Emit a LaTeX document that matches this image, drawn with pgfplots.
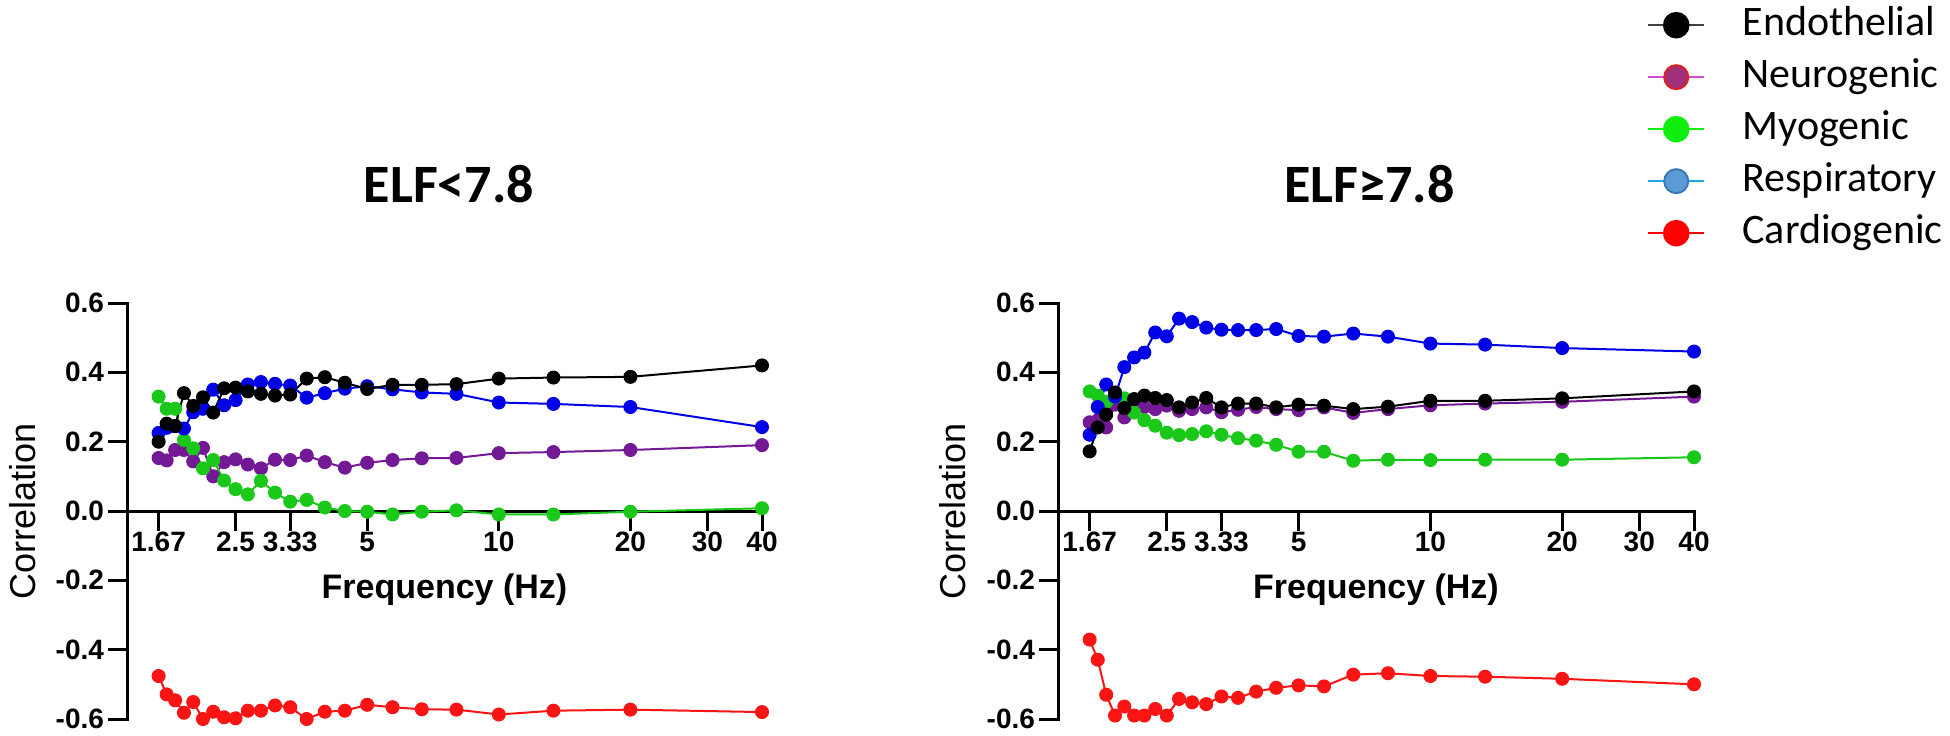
\documentclass[border=0pt]{standalone}
\usepackage{pgfplots}
\pgfplotsset{compat=1.18}
\usepackage{fontspec}
\setmainfont{Liberation Sans}
\newfontfamily\carlito{Carlito}
\definecolor{cEndo}{RGB}{0,0,0}
\definecolor{cNeuro}{RGB}{115,25,150}
\definecolor{cMyo}{RGB}{25,200,25}
\definecolor{cResp}{RGB}{0,0,230}
\definecolor{cCard}{RGB}{250,20,20}
\definecolor{lNeuroLine}{RGB}{208,80,200}
\definecolor{lNeuroFill}{RGB}{160,48,122}
\definecolor{lNeuroDraw}{RGB}{225,30,30}
\definecolor{lMyo}{RGB}{16,238,16}
\definecolor{lRespLine}{RGB}{30,168,232}
\definecolor{lRespFill}{RGB}{91,155,213}
\definecolor{lRespDraw}{RGB}{58,120,184}
\definecolor{lEndoLine}{RGB}{64,64,64}

\pgfplotsset{
  every axis/.append style={
    scale only axis, height=208pt,
    xmin=1.411, xmax=40, ymin=-0.6, ymax=0.6,
    axis x line=middle, axis y line=left,
    axis line style={-, line width=1.5pt, black},
    hide obscured x ticks=false, hide obscured y ticks=false,
    major tick length=0pt,
    minor tick num=0,
    xtick={1.6667,2.5,3.3333,5,10,20,30,40},
    xticklabels={1.67,2.5,3.33,5,10,20,30,40},
    ytick={-0.6,-0.4,-0.2,0,0.2,0.4,0.6},
    yticklabels={-0.6,-0.4,-0.2,0.0,0.2,0.4,0.6},
    ticklabel style={font=\bfseries\fontsize{14}{16}\selectfont},
    xticklabel style={anchor=north, yshift=-7pt},
    yticklabel style={anchor=east, xshift=-8pt},
    xlabel={Frequency (Hz)},
    xlabel style={at={(axis description cs:0.5,0.31)}, anchor=center, font=\bfseries\fontsize{17}{20}\selectfont},
    ylabel={Correlation},
    ylabel style={at={(axis description cs:-0.165,0.5)}, anchor=center, font=\fontsize{18}{21}\selectfont},
    title style={anchor=center, font=\carlito\bfseries\fontsize{27}{31}\selectfont},
    clip=false,
  },
  ser/.style={color=#1, mark=*, mark size=3.25pt, line width=1pt, mark options={fill=#1, draw=#1, line width=0.5pt}},
}
\tikzset{tk/.style={line width=1.5pt, black, line cap=rect}}
\newcommand\drawticks{%
  \draw[tk] (axis cs:1.6667,0) -- ([yshift=-9pt]axis cs:1.6667,0);
  \draw[tk] (axis cs:2.5,0) -- ([yshift=-9pt]axis cs:2.5,0);
  \draw[tk] (axis cs:3.3333,0) -- ([yshift=-9pt]axis cs:3.3333,0);
  \draw[tk] (axis cs:5,0) -- ([yshift=-9pt]axis cs:5,0);
  \draw[tk] (axis cs:10,0) -- ([yshift=-9pt]axis cs:10,0);
  \draw[tk] (axis cs:20,0) -- ([yshift=-9pt]axis cs:20,0);
  \draw[tk] (axis cs:30,0) -- ([yshift=-9pt]axis cs:30,0);
  \draw[tk] (axis cs:40,0) -- ([yshift=-9pt]axis cs:40,0);
  \draw[tk] (axis cs:1.411,-0.6) -- ([xshift=-9pt]axis cs:1.411,-0.6);
  \draw[tk] (axis cs:1.411,-0.4) -- ([xshift=-9pt]axis cs:1.411,-0.4);
  \draw[tk] (axis cs:1.411,-0.2) -- ([xshift=-9pt]axis cs:1.411,-0.2);
  \draw[tk] (axis cs:1.411,0) -- ([xshift=-9pt]axis cs:1.411,0);
  \draw[tk] (axis cs:1.411,0.2) -- ([xshift=-9pt]axis cs:1.411,0.2);
  \draw[tk] (axis cs:1.411,0.4) -- ([xshift=-9pt]axis cs:1.411,0.4);
  \draw[tk] (axis cs:1.411,0.6) -- ([xshift=-9pt]axis cs:1.411,0.6);
}

\begin{document}
\begin{tikzpicture}
\path[use as bounding box] (0,0) rectangle (975pt,367.5pt);

\begin{semilogxaxis}[at={(63.5pt,8pt)}, anchor=south west, width=317.5pt, title={ELF<7.8},
  title style={at={(axis description cs:0.507,1.257)}}]
\drawticks
\addplot[ser=cCard] coordinates {(1.6667,-0.476) (1.7391,-0.529) (1.8182,-0.546) (1.9048,-0.582) (2.0,-0.551) (2.1053,-0.60) (2.2222,-0.579) (2.3529,-0.595) (2.5,-0.598) (2.6667,-0.576) (2.8571,-0.576) (3.0769,-0.561) (3.3333,-0.566) (3.6364,-0.60) (4.0,-0.579) (4.4444,-0.576) (5.0,-0.559) (5.7143,-0.566) (6.6667,-0.572) (8.0,-0.573) (10,-0.587) (13.333,-0.576) (20,-0.573) (40,-0.58)};
\addplot[ser=cNeuro] coordinates {(1.6667,0.153) (1.7391,0.146) (1.8182,0.176) (1.9048,0.176) (2.0,0.143) (2.1053,0.182) (2.2222,0.10) (2.3529,0.141) (2.5,0.149) (2.6667,0.134) (2.8571,0.123) (3.0769,0.148) (3.3333,0.147) (3.6364,0.16) (4.0,0.141) (4.4444,0.125) (5.0,0.139) (5.7143,0.147) (6.6667,0.152) (8.0,0.153) (10,0.167) (13.333,0.170) (20,0.176) (40,0.19)};
\addplot[ser=cMyo] coordinates {(1.6667,0.33) (1.7391,0.295) (1.8182,0.295) (1.9048,0.205) (2.0,0.181) (2.1053,0.123) (2.2222,0.147) (2.3529,0.088) (2.5,0.063) (2.6667,0.048) (2.8571,0.087) (3.0769,0.053) (3.3333,0.027) (3.6364,0.032) (4.0,0.01) (4.4444,0.0) (5.0,-0.002) (5.7143,-0.01) (6.6667,-0.002) (8.0,0.002) (10,-0.01) (13.333,-0.01) (20,-0.002) (40,0.008)};
\addplot[ser=cResp] coordinates {(1.6667,0.225) (1.7391,0.24) (1.8182,0.245) (1.9048,0.238) (2.0,0.285) (2.1053,0.295) (2.2222,0.35) (2.3529,0.305) (2.5,0.32) (2.6667,0.365) (2.8571,0.372) (3.0769,0.367) (3.3333,0.362) (3.6364,0.327) (4.0,0.34) (4.4444,0.353) (5.0,0.36) (5.7143,0.351) (6.6667,0.342) (8.0,0.338) (10,0.313) (13.333,0.309) (20,0.30) (40,0.242)};
\addplot[ser=cEndo] coordinates {(1.6667,0.20) (1.7391,0.252) (1.8182,0.245) (1.9048,0.34) (2.0,0.303) (2.1053,0.328) (2.2222,0.284) (2.3529,0.354) (2.5,0.356) (2.6667,0.345) (2.8571,0.338) (3.0769,0.333) (3.3333,0.336) (3.6364,0.382) (4.0,0.386) (4.4444,0.37) (5.0,0.352) (5.7143,0.364) (6.6667,0.364) (8.0,0.366) (10,0.382) (13.333,0.385) (20,0.387) (40,0.42)};
\end{semilogxaxis}

\begin{semilogxaxis}[at={(529pt,8pt)}, anchor=south west, width=318pt, title={ELF≥7.8},
  title style={at={(axis description cs:0.49,1.257)}},
  legend style={at={(axis description cs:0.926,1.716)}, anchor=north west, draw=none, fill=none, inner sep=0pt, outer sep=0pt,
    font=\carlito\fontsize{21}{25}\selectfont, row sep=6pt,
    nodes={inner sep=0pt, text height=15pt, text depth=5pt},
    /tikz/every odd column/.append style={column sep=18.5pt}},
  legend cell align=left,
  legend image code/.code={\draw[mark repeat=2, mark phase=2, #1] plot coordinates {(0pt,0pt) (14pt,0pt) (28pt,0pt)};}]
\drawticks
\addplot[ser=cCard, forget plot] coordinates {(1.6667,-0.371) (1.7391,-0.429) (1.8182,-0.530) (1.9048,-0.59) (2.0,-0.564) (2.1053,-0.59) (2.2222,-0.59) (2.3529,-0.571) (2.5,-0.59) (2.6667,-0.542) (2.8571,-0.552) (3.0769,-0.557) (3.3333,-0.535) (3.6364,-0.539) (4.0,-0.521) (4.4444,-0.51) (5.0,-0.503) (5.7143,-0.506) (6.6667,-0.472) (8.0,-0.468) (10,-0.476) (13.333,-0.478) (20,-0.484) (40,-0.50)};
\addplot[ser=cNeuro, forget plot] coordinates {(1.6667,0.256) (1.7391,0.262) (1.8182,0.241) (1.9048,0.307) (2.0,0.27) (2.1053,0.304) (2.2222,0.30) (2.3529,0.294) (2.5,0.304) (2.6667,0.289) (2.8571,0.294) (3.0769,0.299) (3.3333,0.285) (3.6364,0.292) (4.0,0.30) (4.4444,0.294) (5.0,0.291) (5.7143,0.299) (6.6667,0.283) (8.0,0.294) (10,0.305) (13.333,0.31) (20,0.315) (40,0.33)};
\addplot[ser=cMyo, forget plot] coordinates {(1.6667,0.345) (1.7391,0.333) (1.8182,0.315) (1.9048,0.33) (2.0,0.325) (2.1053,0.284) (2.2222,0.262) (2.3529,0.246) (2.5,0.226) (2.6667,0.219) (2.8571,0.222) (3.0769,0.23) (3.3333,0.22) (3.6364,0.21) (4.0,0.203) (4.4444,0.191) (5.0,0.171) (5.7143,0.171) (6.6667,0.145) (8.0,0.148) (10,0.147) (13.333,0.148) (20,0.148) (40,0.155)};
\addplot[ser=cResp, forget plot] coordinates {(1.6667,0.22) (1.7391,0.30) (1.8182,0.365) (1.9048,0.33) (2.0,0.415) (2.1053,0.443) (2.2222,0.457) (2.3529,0.515) (2.5,0.504) (2.6667,0.555) (2.8571,0.545) (3.0769,0.529) (3.3333,0.523) (3.6364,0.522) (4.0,0.522) (4.4444,0.525) (5.0,0.505) (5.7143,0.503) (6.6667,0.512) (8.0,0.503) (10,0.483) (13.333,0.48) (20,0.47) (40,0.46)};
\addplot[ser=cEndo, forget plot] coordinates {(1.6667,0.172) (1.7391,0.241) (1.8182,0.278) (1.9048,0.342) (2.0,0.297) (2.1053,0.323) (2.2222,0.333) (2.3529,0.326) (2.5,0.32) (2.6667,0.299) (2.8571,0.313) (3.0769,0.326) (3.3333,0.299) (3.6364,0.31) (4.0,0.31) (4.4444,0.299) (5.0,0.307) (5.7143,0.304) (6.6667,0.294) (8.0,0.301) (10,0.318) (13.333,0.318) (20,0.325) (40,0.345)};
\addlegendimage{color=lEndoLine, line width=1.3pt, mark=*, mark size=6pt, mark options={fill=black, draw=black}}
\addlegendentry{Endothelial}
\addlegendimage{color=lNeuroLine, line width=1.3pt, mark=*, mark size=6pt, mark options={fill=lNeuroFill, draw=lNeuroDraw, line width=1pt}}
\addlegendentry{Neurogenic}
\addlegendimage{color=lMyo, line width=1.3pt, mark=*, mark size=6pt, mark options={fill=lMyo, draw=lMyo}}
\addlegendentry{Myogenic}
\addlegendimage{color=lRespLine, line width=1.3pt, mark=*, mark size=6pt, mark options={fill=lRespFill, draw=lRespDraw, line width=1pt}}
\addlegendentry{Respiratory}
\addlegendimage{color=red, line width=1.3pt, mark=*, mark size=6pt, mark options={fill=red, draw=red}}
\addlegendentry{Cardiogenic}
\end{semilogxaxis}
\end{tikzpicture}
\end{document}
